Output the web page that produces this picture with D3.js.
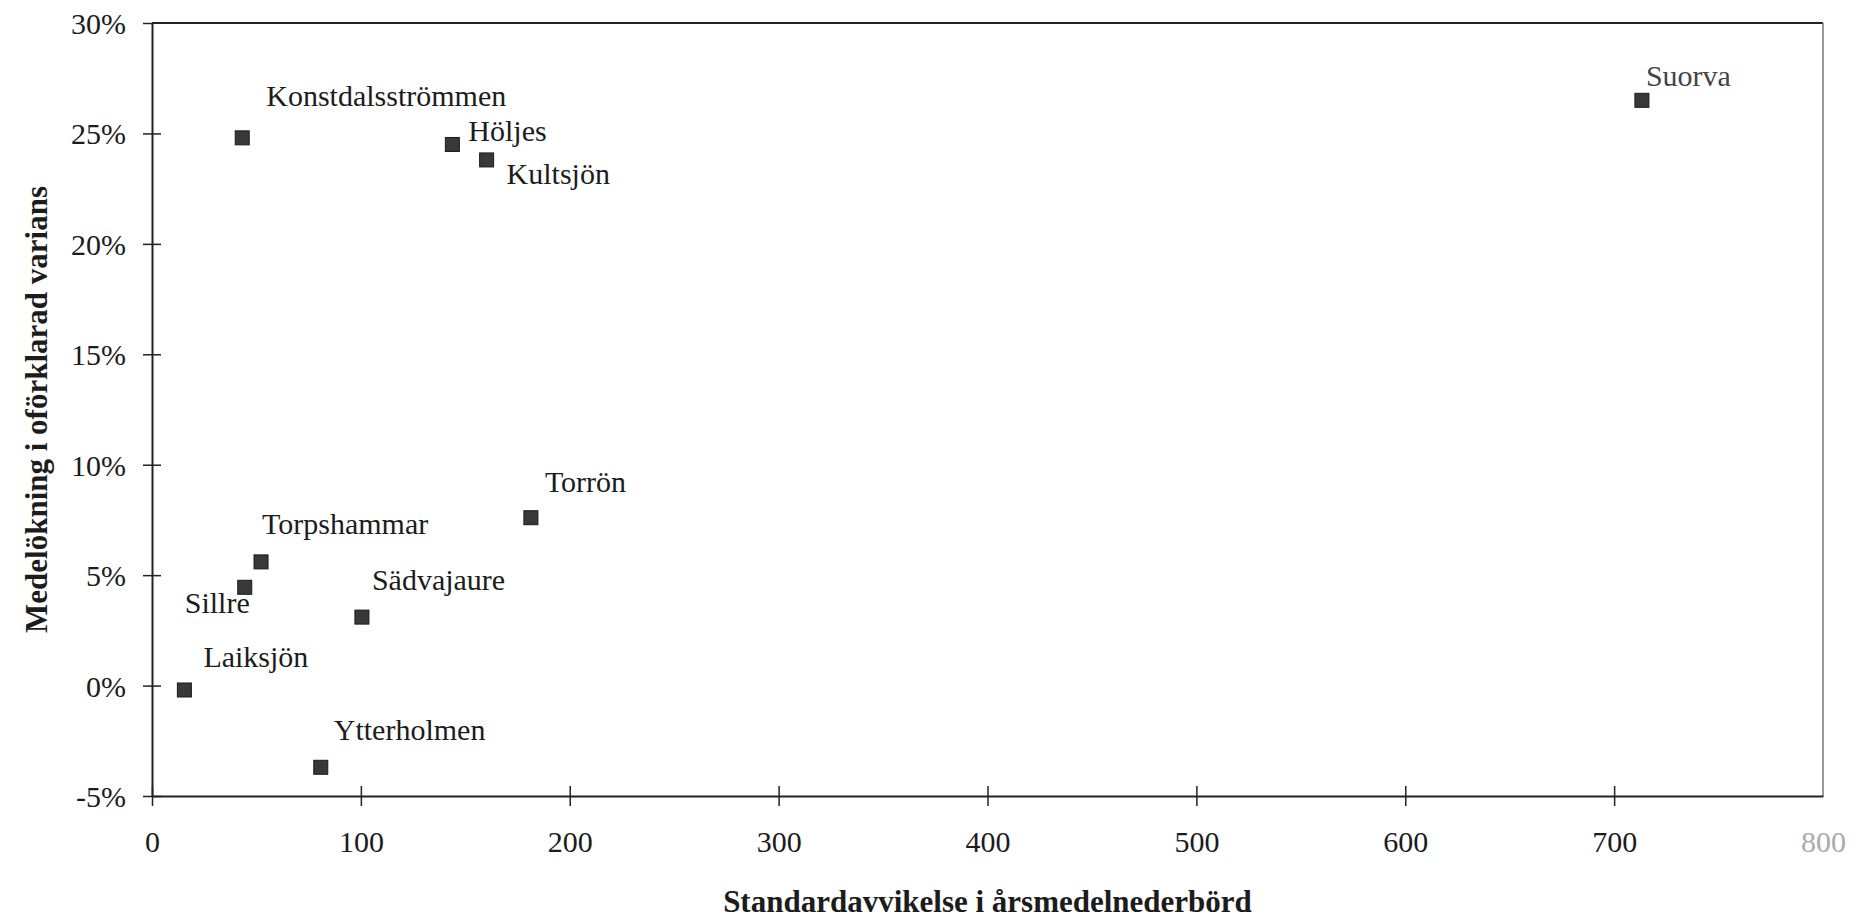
<!DOCTYPE html>
<html>
<head>
<meta charset="utf-8">
<script src="https://cdn.jsdelivr.net/npm/d3@7/dist/d3.min.js"></script>
<style>
  html, body { margin: 0; padding: 0; background: #fff; }
  svg { display: block; }
  text { font-family: "Liberation Serif", "Times New Roman", serif; }
</style>
</head>
<body>
<svg id="chart" width="1874" height="920"></svg>
<script>
// ---- data ----
const stations = ["Konstdalsströmmen", "Höljes", "Kultsjön", "Suorva", "Torrön",
                  "Torpshammar", "Sillre", "Sädvajaure", "Laiksjön", "Ytterholmen"];
const stdDev   = [43.2, 143.8, 160.2, 713.3, 181.4, 52.2, 44.4, 100.5, 15.5, 80.8];
const increase = [24.8, 24.5, 23.8, 26.5, 7.6, 5.6, 4.45, 3.1, -0.2, -3.7];
const xTicks = [0, 100, 200, 300, 400, 500, 600, 700, 800];
const yTicks = [-5, 0, 5, 10, 15, 20, 25, 30];
const xTitle = "Standardavvikelse i årsmedelnederbörd";
const yTitle = "Medelökning i oförklarad varians";

// ---- label placement (offsets from marker, px) ----
const labelPlace = {
  "Konstdalsströmmen": [24, -32, "start"],
  "Höljes":            [16, -3, "start"],
  "Kultsjön":          [20, 24, "start"],
  "Suorva":            [4, -14, "start"],
  "Torrön":            [14, -26, "start"],
  "Torpshammar":       [1, -28, "start"],
  "Sillre":            [5, 26, "end"],
  "Sädvajaure":        [10, -27, "start"],
  "Laiksjön":          [19, -23, "start"],
  "Ytterholmen":       [13, -27, "start"]
};

const svg = d3.select("#chart");
const L = 152, R = 1823, T = 23, B = 796;
const x = d3.scaleLinear().domain([0, 800]).range([L, R]);
const y = d3.scaleLinear().domain([-5, 30]).range([B, T]);
const ink = "#1c1c1c";

// frame: top and right
svg.append("line").attr("x1", L).attr("x2", R).attr("y1", T).attr("y2", T)
  .attr("stroke", "#222").attr("stroke-width", 2);
svg.append("line").attr("x1", R).attr("x2", R).attr("y1", T).attr("y2", B)
  .attr("stroke", "#777").attr("stroke-width", 1.5);

// x axis
const xAxis = d3.axisBottom(x).tickValues(xTicks).tickSizeInner(0).tickSizeOuter(0)
  .tickFormat(d3.format("d")).tickPadding(0);
const gx = svg.append("g").attr("transform", `translate(0,${B})`).call(xAxis);
gx.select(".domain").attr("stroke", "#222").attr("stroke-width", 2);
gx.selectAll(".tick line").attr("y1", -10).attr("y2", 10).attr("stroke", "#222").attr("stroke-width", 1.5);
gx.selectAll(".tick text").attr("y", 56).attr("dy", 0)
  .attr("font-size", 30).attr("fill", (d) => d === 800 ? "#aaa" : ink)
  .style("font-family", '"Liberation Serif", serif');
gx.selectAll(".tick").filter((d) => d === 800).select("line").remove();

// y axis
const yAxis = d3.axisLeft(y).tickValues(yTicks).tickSizeInner(0).tickSizeOuter(0)
  .tickFormat((d) => d + "%").tickPadding(0);
const gy = svg.append("g").attr("transform", `translate(${L},0)`).call(yAxis);
gy.select(".domain").attr("stroke", "#222").attr("stroke-width", 2);
gy.selectAll(".tick line").attr("x1", -9).attr("x2", 9).attr("stroke", "#222").attr("stroke-width", 1.5);
gy.selectAll(".tick").filter((d) => d === 30).select("line").attr("x2", 0);
gy.selectAll(".tick text").attr("x", -26).attr("dy", "0.35em")
  .attr("font-size", 30).attr("fill", ink)
  .style("font-family", '"Liberation Serif", serif');

// points
const pts = stations.map((s, i) => ({ name: s, sx: stdDev[i], vy: increase[i] }));
const ms = 14;
svg.append("g").selectAll("rect").data(pts).join("rect")
  .attr("x", (d) => x(d.sx) - ms / 2)
  .attr("y", (d) => y(d.vy) - ms / 2)
  .attr("width", ms).attr("height", ms)
  .attr("fill", "#383838").attr("stroke", "#1a1a1a").attr("stroke-width", 1);

// labels
svg.append("g").selectAll("text").data(pts).join("text")
  .attr("x", (d) => x(d.sx) + labelPlace[d.name][0])
  .attr("y", (d) => y(d.vy) + labelPlace[d.name][1])
  .attr("text-anchor", (d) => labelPlace[d.name][2])
  .attr("font-size", 30)
  .attr("fill", (d) => d.name === "Suorva" ? "#444" : ink)
  .text((d) => d.name);

// axis titles
svg.append("text")
  .attr("x", (L + R) / 2).attr("y", 912)
  .attr("text-anchor", "middle")
  .attr("font-size", 31).attr("font-weight", "bold").attr("fill", ink)
  .text(xTitle);

svg.append("text")
  .attr("transform", `translate(47,${(T + B) / 2}) rotate(-90)`)
  .attr("text-anchor", "middle")
  .attr("font-size", 31).attr("font-weight", "bold").attr("fill", ink)
  .text(yTitle);
</script>
</body>
</html>
